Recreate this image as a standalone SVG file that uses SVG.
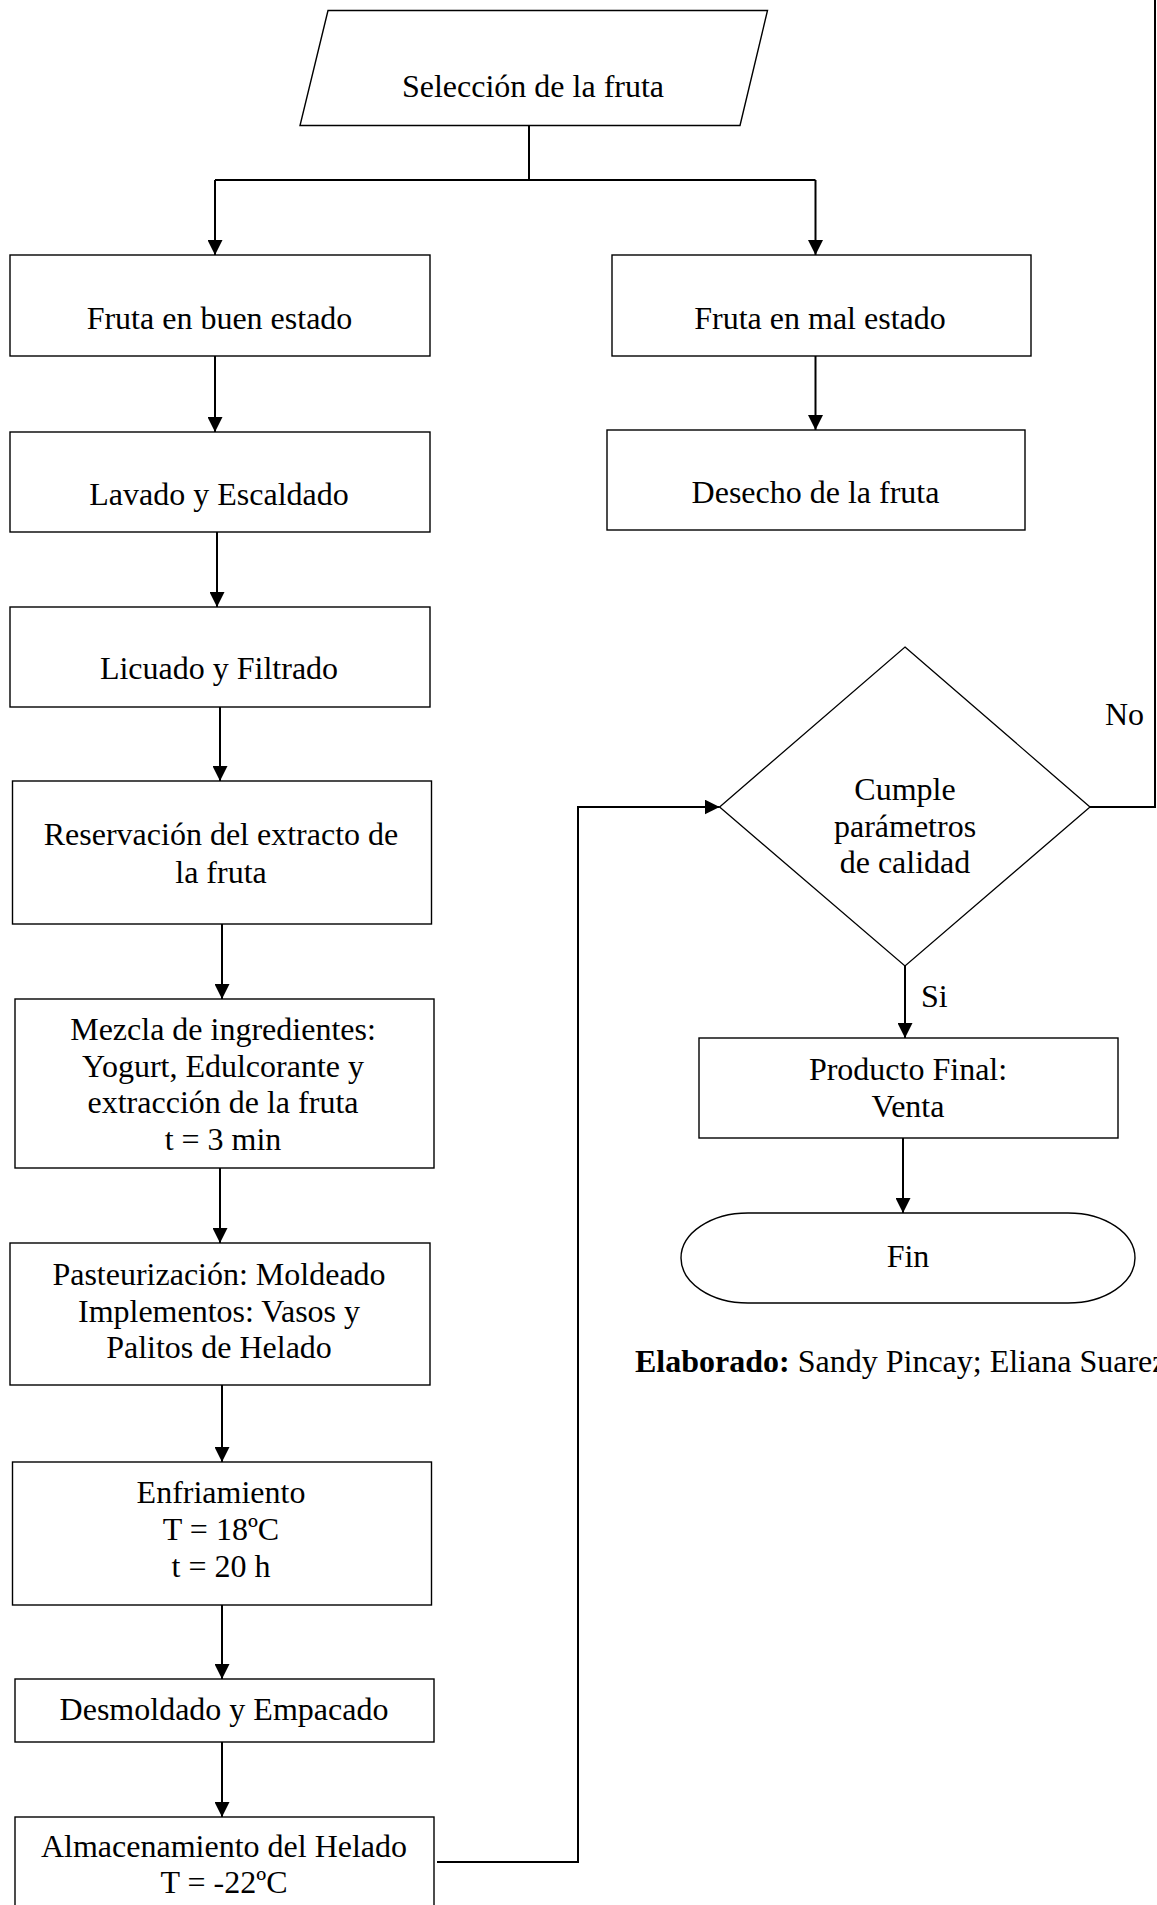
<svg xmlns="http://www.w3.org/2000/svg" width="1157" height="1905" viewBox="0 0 1157 1905">
  <style>
    .shape { fill: #ffffff; stroke: #000000; stroke-width: 1.4; }
    .dia { fill: #ffffff; stroke: #000000; stroke-width: 1.3; }
    .wire { fill: none; stroke: #000000; stroke-width: 2; }
    .lbl { font-family: "Liberation Serif", "Times New Roman", serif; font-size: 32px; fill: #000000; text-anchor: middle; }
    .lbl-start { font-family: "Liberation Serif", "Times New Roman", serif; font-size: 32px; fill: #000000; }
  </style>
  <defs>
    <marker id="arrow" markerUnits="userSpaceOnUse" markerWidth="15" markerHeight="15" refX="15" refY="7.5" orient="auto">
      <path d="M0,0 L15,7.5 L0,15 Z" fill="#000000"/>
    </marker>
  </defs>

  <rect x="0" y="0" width="1157" height="1905" fill="#ffffff"/>

  <!-- connectors -->
  <g id="connectors">
    <path class="wire" d="M529,126 V180"/>
    <path class="wire" d="M215,180 H815.5"/>
    <path class="wire" d="M215,180 V255" marker-end="url(#arrow)"/>
    <path class="wire" d="M815.5,180 V255" marker-end="url(#arrow)"/>
    <path class="wire" d="M215,356 V432" marker-end="url(#arrow)"/>
    <path class="wire" d="M815.5,356 V430" marker-end="url(#arrow)"/>
    <path class="wire" d="M217,532 V607" marker-end="url(#arrow)"/>
    <path class="wire" d="M220,707 V781" marker-end="url(#arrow)"/>
    <path class="wire" d="M222,924 V999" marker-end="url(#arrow)"/>
    <path class="wire" d="M220,1168 V1243" marker-end="url(#arrow)"/>
    <path class="wire" d="M222,1385 V1462" marker-end="url(#arrow)"/>
    <path class="wire" d="M222,1605 V1679" marker-end="url(#arrow)"/>
    <path class="wire" d="M222,1742 V1817" marker-end="url(#arrow)"/>
    <path class="wire" d="M437,1862 H578 V807 H719.6" marker-end="url(#arrow)"/>
    <path class="wire" d="M905,966 V1038" marker-end="url(#arrow)"/>
    <path class="wire" d="M903,1138 V1213" marker-end="url(#arrow)"/>
    <path class="wire" d="M1090,807 H1155 V0"/>
    <text class="lbl-start" x="1105" y="725">No</text>
    <text class="lbl-start" x="921" y="1007">Si</text>
  </g>

  <!-- input: fruit selection -->
  <g id="seleccion">
    <polygon class="shape" points="328,10.5 767.5,10.5 740,125.5 300,125.5"/>
    <text class="lbl" x="533" y="97">Selección de la fruta</text>
  </g>

  <g id="fruta-buena">
    <rect class="shape" x="10" y="255" width="420" height="101"/>
    <text class="lbl" x="219.5" y="329">Fruta en buen estado</text>
  </g>

  <g id="fruta-mala">
    <rect class="shape" x="612" y="255" width="419" height="101"/>
    <text class="lbl" x="820" y="329">Fruta en mal estado</text>
  </g>

  <g id="lavado">
    <rect class="shape" x="10" y="432" width="420" height="100"/>
    <text class="lbl" x="219" y="505">Lavado y Escaldado</text>
  </g>

  <g id="desecho">
    <rect class="shape" x="607" y="430" width="418" height="100"/>
    <text class="lbl" x="815.5" y="503">Desecho de la fruta</text>
  </g>

  <g id="licuado">
    <rect class="shape" x="10" y="607" width="420" height="100"/>
    <text class="lbl" x="219" y="679">Licuado y Filtrado</text>
  </g>

  <g id="reservacion">
    <rect class="shape" x="12.5" y="781" width="419" height="143"/>
    <text class="lbl" x="221" y="845">Reservación del extracto de</text>
    <text class="lbl" x="221" y="883">la fruta</text>
  </g>

  <g id="mezcla">
    <rect class="shape" x="15" y="999" width="419" height="169"/>
    <text class="lbl" x="223" y="1040">Mezcla de ingredientes:</text>
    <text class="lbl" x="223" y="1077">Yogurt, Edulcorante y</text>
    <text class="lbl" x="223" y="1113">extracción de la fruta</text>
    <text class="lbl" x="223" y="1150">t = 3 min</text>
  </g>

  <g id="pasteurizacion">
    <rect class="shape" x="10" y="1243" width="420" height="142"/>
    <text class="lbl" x="219" y="1285">Pasteurización: Moldeado</text>
    <text class="lbl" x="219" y="1322">Implementos: Vasos y</text>
    <text class="lbl" x="219" y="1358">Palitos de Helado</text>
  </g>

  <g id="enfriamiento">
    <rect class="shape" x="12.5" y="1462" width="419" height="143"/>
    <text class="lbl" x="221" y="1503">Enfriamiento</text>
    <text class="lbl" x="221" y="1540">T = 18ºC</text>
    <text class="lbl" x="221" y="1577">t = 20 h</text>
  </g>

  <g id="desmoldado">
    <rect class="shape" x="15" y="1679" width="419" height="63"/>
    <text class="lbl" x="224" y="1720">Desmoldado y Empacado</text>
  </g>

  <g id="almacenamiento">
    <rect class="shape" x="15" y="1817" width="419" height="100"/>
    <text class="lbl" x="224" y="1857">Almacenamiento del Helado</text>
    <text class="lbl" x="224" y="1893">T = -22ºC</text>
  </g>

  <!-- quality decision -->
  <g id="calidad">
    <polygon class="dia" points="905,647 1090,807 905,966 719.6,807"/>
    <text class="lbl" x="905" y="800">Cumple</text>
    <text class="lbl" x="905" y="837">parámetros</text>
    <text class="lbl" x="905" y="873">de calidad</text>
  </g>

  <g id="producto">
    <rect class="shape" x="699" y="1038" width="419" height="100"/>
    <text class="lbl" x="908" y="1080">Producto Final:</text>
    <text class="lbl" x="908" y="1117">Venta</text>
  </g>

  <g id="fin">
    <rect class="shape" x="681" y="1213" width="454" height="90" rx="67" ry="45"/>
    <text class="lbl" x="908" y="1267">Fin</text>
  </g>

  <g id="autores">
    <text class="lbl-start" x="635" y="1372"><tspan font-weight="bold">Elaborado:</tspan> Sandy Pincay; Eliana Suarez</text>
  </g>
</svg>
